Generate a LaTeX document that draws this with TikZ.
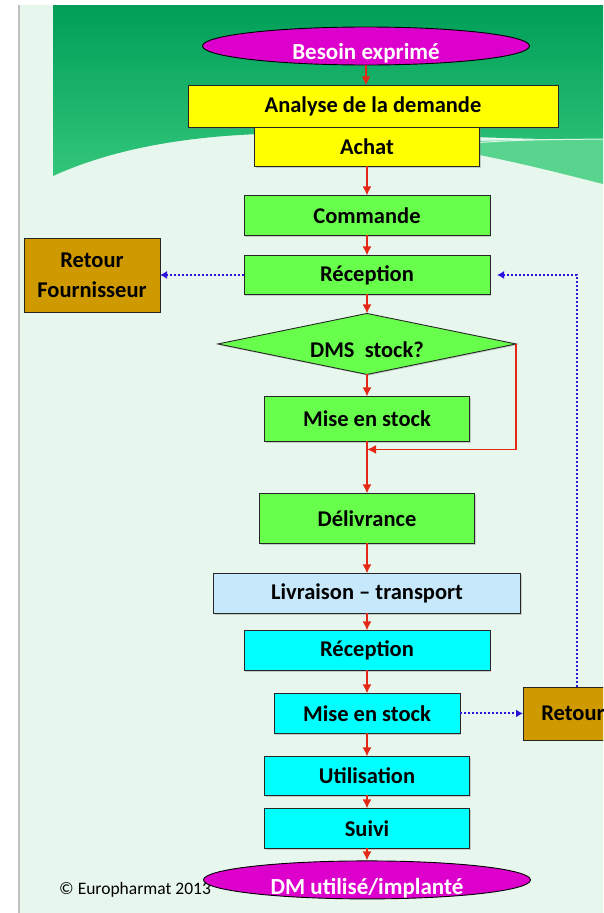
\documentclass[tikz,border=0pt]{standalone}
\usepackage{fontspec}
\setmainfont{Carlito}
\usepackage{tikz}
\usetikzlibrary{arrows.meta}
\usetikzlibrary{calc}
\usetikzlibrary{shadows}
\usetikzlibrary{positioning}
\usetikzlibrary{shapes.geometric}

\definecolor{fond}{RGB}{232,247,238}
\definecolor{vertfonce}{RGB}{0,158,88}
\definecolor{vertclair}{RGB}{50,198,122}
\definecolor{bande}{RGB}{88,212,142}
\definecolor{magentaterm}{RGB}{221,0,204}
\definecolor{jauneboite}{RGB}{255,255,0}
\definecolor{vertboite}{RGB}{104,255,76}
\definecolor{bleuboite}{RGB}{198,232,250}
\definecolor{cyanboite}{RGB}{0,255,255}
\definecolor{ocre}{RGB}{207,153,0}
\definecolor{rougefleche}{RGB}{228,40,22}
\definecolor{bleufleche}{RGB}{45,20,220}

\begin{document}
\begin{tikzpicture}[x=1pt,y=-1pt,
        boite/.style={draw=black!85, line width=0.9pt, inner sep=0pt, outer sep=0pt,
            font=\fontsize{22.5}{26}\selectfont\bfseries,
            drop shadow={shadow xshift=1.2pt, shadow yshift=-1.2pt, opacity=.35}},
        jaune/.style={boite, fill=jauneboite},
        vert/.style={boite, fill=vertboite},
        bleu/.style={boite, fill=bleuboite},
        turquoise/.style={boite, fill=cyanboite},
        retourbox/.style={boite, fill=ocre, align=center, font=\fontsize{22.5}{30}\selectfont\bfseries},
        losange/.style={boite, diamond, aspect=4.9, fill=vertboite, minimum width=298pt, minimum height=61pt},
        term/.style={ellipse, draw=black, line width=0.9pt, fill=magentaterm, inner sep=0pt,
            minimum width=327pt, minimum height=38pt},
        termtxt/.style={text=white, font=\fontsize{23}{26}\selectfont\bfseries, inner sep=0pt},
        fleche/.style={color=rougefleche, line width=1.6pt, -{Latex[length=9pt,width=9pt]}},
        pointille/.style={draw=bleufleche, line width=2pt, dotted, -{Latex[length=7pt,width=8pt]}}]
    \useasboundingbox (0,0) rectangle (603,913);
    \clip (0,0) rectangle (603,913);
    \fill[white] (0,0) rectangle (603,913);
    \fill[fond] (19,5) rectangle (603,913);
    \draw[black!25, line width=1.5pt] (19,5) -- (19,913);
    \shade[top color=vertfonce, bottom color=vertclair] (53,5) -- (603,5) -- (603,139)
        .. controls (500,141) and (380,130) .. (260,134)
        .. controls (180,137) and (110,150) .. (53,176) -- cycle;
    \fill[bande] (400,143) .. controls (480,141) and (540,139) .. (603,139) -- (603,184)
        .. controls (540,168) and (470,150) .. (400,143) -- cycle;
    \draw[white, line width=1pt, opacity=.8] (470,143) .. controls (520,140) .. (603,139);

    \node[term] (besoin) at (366,46) {};
    \node[termtxt] (besointxt) at ([yshift=-7pt]besoin.center) {Besoin exprimé};
    \node[jaune, minimum width=370pt, minimum height=42pt, below=20pt of besoin, xshift=7pt] (analyse) {Analyse de la demande};
    \node[jaune, minimum width=225pt, minimum height=39pt, below=0pt of analyse, xshift=-6pt] (achat) {Achat};
    \node[vert, minimum width=246pt, minimum height=40pt, below=29pt of achat] (commande) {Commande};
    \node[vert, minimum width=246pt, minimum height=39pt, below=20pt of commande] (recep) {Réception};
    \node[losange, below=19pt of recep] (dms) {\raisebox{-14pt}[0pt][0pt]{DMS\ \ stock?}};
    \node[vert, minimum width=205pt, minimum height=45pt, below=22pt of dms] (stock) {Mise en stock};
    \node[vert, minimum width=215pt, minimum height=50pt, below=52pt of stock] (deliv) {Délivrance};
    \node[bleu, minimum width=307pt, minimum height=40pt, below=30pt of deliv] (livr) {Livraison – transport};
    \node[turquoise, minimum width=246pt, minimum height=40pt, below=17pt of livr] (recep2) {Réception};
    \node[turquoise, minimum width=186pt, minimum height=40pt, below=23pt of recep2] (stock2) {Mise en stock};
    \node[turquoise, minimum width=205pt, minimum height=39pt, below=23pt of stock2] (util) {Utilisation};
    \node[turquoise, minimum width=205pt, minimum height=40pt, below=13pt of util] (suivi) {Suivi};
    \node[anchor=west, inner sep=0pt, font=\fontsize{17.5}{20}\selectfont] (copyr) at (59,890) {© Europharmat 2013};
    \node[term, below=12pt of suivi] (dm) {};
    \node[termtxt] (dmtxt) at ([yshift=-8pt]dm.center) {DM utilisé/implanté};
    \node[retourbox, minimum width=136pt, minimum height=74pt, left=84pt of recep] (retfour) {Retour\\Fournisseur};
    \node[retourbox, minimum width=100pt, minimum height=53pt, right=63pt of stock2] (retour) {Retour};

    \coordinate (joint) at ([yshift=-8pt]stock.south);
    \path[fleche] (besoin.south) edge (besoin.south |- analyse.north)
        (achat) edge (commande)
        (commande) edge (recep)
        (recep) edge (dms)
        (dms) edge (stock)
        (stock) edge (deliv)
        (deliv) edge (livr)
        (livr) edge (recep2)
        (recep2) edge (stock2)
        (stock2) edge (util)
        (util) edge (suivi)
        (suivi) edge (dm);
    \draw[fleche] (dms.east) |- (joint);
    \draw[pointille] (recep.west) -- (retfour.east);
    \draw[pointille] (stock2) -- (retour);
    \draw[pointille, shorten >=7pt] ([xshift=4pt]retour.north) |- (recep.east);
\end{tikzpicture}
\end{document}
